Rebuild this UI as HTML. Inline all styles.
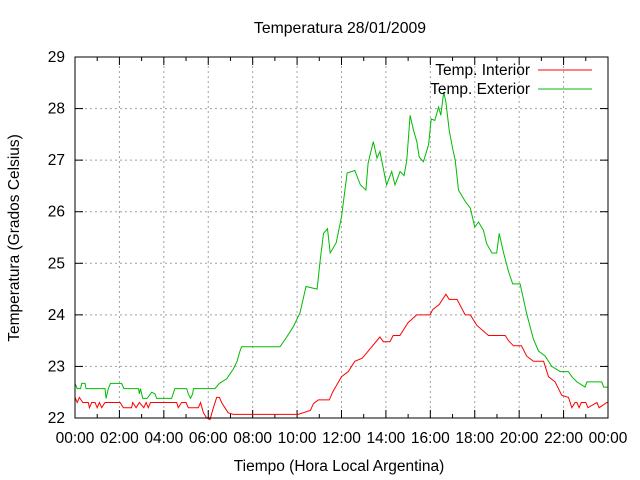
<!DOCTYPE html>
<html><head><meta charset="utf-8"><style>
body{margin:0;background:#fff}
svg{display:block;font-family:"Liberation Sans",sans-serif}
</style></head><body>
<svg id="c" width="640" height="480">
<rect width="640" height="480" fill="#fff"/>
<text x="340" y="33" text-anchor="middle" font-size="15.8">Temperatura 28/01/2009</text>
<text x="339" y="471" text-anchor="middle" font-size="15.5">Tiempo (Hora Local Argentina)</text>
<text transform="translate(19,238) rotate(-90)" text-anchor="middle" font-size="15.5">Temperatura (Grados Celsius)</text>
<g id="grid"></g><g id="ticks"></g><g id="series"></g>
<rect x="75" y="57" width="533" height="361" fill="none" stroke="#000"/>
<g><text x="530" y="75" text-anchor="end" font-size="15.5">Temp. Interior</text><line x1="538" x2="592" y1="70" y2="70" stroke="#f00"/></g>
<g><text x="530" y="94" text-anchor="end" font-size="15.5">Temp. Exterior</text><line x1="538" x2="592" y1="89" y2="89" stroke="#0b0"/></g>
</svg>
<script>
const yTicks=[22,23,24,25,26,27,28,29];
const xTickLabels=["00:00","02:00","04:00","06:00","08:00","10:00","12:00","14:00","16:00","18:00","20:00","22:00","00:00"];
const intHours=[0,0.1,0.2,0.35,0.6,0.65,0.75,0.9,1.0,1.1,1.2,1.35,2.03,2.18,2.55,2.6,2.75,2.9,3.1,3.2,3.3,3.4,4.58,4.65,4.8,5.0,5.1,5.55,5.65,5.78,5.93,6.08,6.23,6.38,6.5,6.6,6.75,6.9,7.13,10.06,10.6,10.74,10.96,11.45,11.6,12.0,12.3,12.6,12.93,13.3,13.73,13.88,14.18,14.33,14.63,15.0,15.39,15.99,16.1,16.4,16.7,16.85,17.2,17.57,17.8,18.09,18.62,19.37,19.52,19.74,20.1,20.34,20.64,21.1,21.32,21.62,21.92,22.22,22.37,22.52,22.6,22.7,22.8,23.0,23.1,23.5,23.6,23.95,24.0];
const intTemps=[22.4,22.3,22.4,22.3,22.3,22.2,22.3,22.3,22.2,22.3,22.2,22.3,22.3,22.2,22.2,22.3,22.2,22.3,22.2,22.3,22.2,22.3,22.3,22.2,22.3,22.3,22.2,22.2,22.3,22.1,22.0,21.97,22.2,22.4,22.4,22.3,22.2,22.1,22.07,22.07,22.15,22.28,22.35,22.35,22.5,22.8,22.9,23.1,23.16,23.35,23.57,23.48,23.48,23.6,23.6,23.85,24.0,24.0,24.1,24.2,24.4,24.3,24.3,24.0,24.0,23.8,23.6,23.6,23.5,23.4,23.4,23.2,23.1,23.1,22.8,22.7,22.44,22.4,22.2,22.3,22.3,22.2,22.3,22.3,22.2,22.3,22.2,22.3,22.3];
const extHours=[0,0.1,0.25,0.3,0.45,0.5,1.35,1.4,1.5,1.6,2.1,2.2,2.86,2.9,2.95,3.05,3.25,3.45,3.6,3.68,4.35,4.5,5.03,5.1,5.2,5.3,5.33,6.3,6.5,6.83,7.13,7.3,7.43,7.5,9.23,9.5,9.83,10.13,10.4,10.9,11.04,11.19,11.37,11.49,11.76,12.0,12.25,12.6,12.85,13.1,13.2,13.43,13.6,13.73,14.03,14.26,14.41,14.64,14.82,14.94,15.09,15.24,15.39,15.5,15.69,15.92,16.04,16.2,16.37,16.47,16.6,16.7,16.85,17.0,17.12,17.27,17.57,17.8,18.0,18.17,18.39,18.54,18.77,18.99,19.1,19.3,19.52,19.71,20.04,20.34,20.64,20.87,21.17,21.47,21.85,22.22,22.37,22.6,22.97,23.05,23.72,23.8,24.0];
const extTemps=[22.67,22.57,22.57,22.67,22.67,22.57,22.57,22.38,22.57,22.67,22.67,22.57,22.57,22.47,22.57,22.38,22.38,22.5,22.47,22.38,22.38,22.57,22.57,22.47,22.38,22.47,22.57,22.57,22.67,22.76,22.95,23.1,23.3,23.38,23.38,23.55,23.77,24.04,24.55,24.5,25.06,25.58,25.67,25.2,25.4,25.9,26.75,26.8,26.52,26.42,26.94,27.36,27.04,27.17,26.52,26.78,26.52,26.78,26.7,27.0,27.87,27.58,27.36,27.06,26.97,27.3,27.8,27.77,28.03,27.87,28.32,28.13,27.58,27.24,27.0,26.42,26.2,26.07,25.7,25.8,25.64,25.38,25.2,25.2,25.58,25.2,24.84,24.6,24.6,24.02,23.53,23.3,23.2,23.0,22.9,22.9,22.8,22.7,22.6,22.7,22.7,22.6,22.6];
const NS="http://www.w3.org/2000/svg";
const X0=75,X1=608,Y0=418,Y1=57;
const xs=h=>X0+(X1-X0)*h/24;
const ys=t=>Y0-(Y0-Y1)*(t-22)/7;
function mk(tag,attrs,parent){const e=document.createElementNS(NS,tag);for(const k in attrs)e.setAttribute(k,attrs[k]);parent.appendChild(e);return e;}
const grid=document.getElementById('grid'),ticks=document.getElementById('ticks'),series=document.getElementById('series');
yTicks.forEach(t=>{const y=ys(t);
 if(t>22&&t<29){const g=mk('line',{x1:X0,x2:X1,y1:y,y2:y,stroke:'#a0a0a0','stroke-dasharray':'2,3'},grid);
 
 }
 mk('line',{x1:X0,x2:X0+8,y1:y,y2:y,stroke:'#000'},ticks);mk('line',{x1:X1,x2:X1-8,y1:y,y2:y,stroke:'#000'},ticks);
 const l=mk('text',{x:X0-10,y:y+5,'text-anchor':'end','font-size':15.5},ticks);l.textContent=t;
 
 
});
xTickLabels.forEach((s,i)=>{const x=xs(i*2);
 if(i>0&&i<12){const g=mk('line',{x1:x,x2:x,y1:Y0,y2:Y1,stroke:'#a0a0a0','stroke-dasharray':'2,3'},grid);
 
 }
 mk('line',{x1:x,x2:x,y1:Y0,y2:Y0-8,stroke:'#000'},ticks);mk('line',{x1:x,x2:x,y1:Y1,y2:Y1+8,stroke:'#000'},ticks);
 if(i<12){const m=xs(i*2+1);mk('line',{x1:m,x2:m,y1:Y0,y2:Y0-4,stroke:'#000'},ticks);mk('line',{x1:m,x2:m,y1:Y1,y2:Y1+4,stroke:'#000'},ticks);}
 const l=mk('text',{x:x,y:443,'text-anchor':'middle','font-size':15.5},ticks);l.textContent=s;
 
 
});
function stepPath(H,T){let d='';for(let i=0;i<H.length;i++){d+=(i?'L':'M')+xs(H[i]).toFixed(1)+','+ys(T[i]).toFixed(1);}return d;}
const pi=mk('path',{d:stepPath(intHours,intTemps),fill:'none',stroke:'#f00','stroke-width':1},series);


const pe=mk('path',{d:stepPath(extHours,extTemps),fill:'none',stroke:'#0b0','stroke-width':1},series);


</script>
</body></html>
